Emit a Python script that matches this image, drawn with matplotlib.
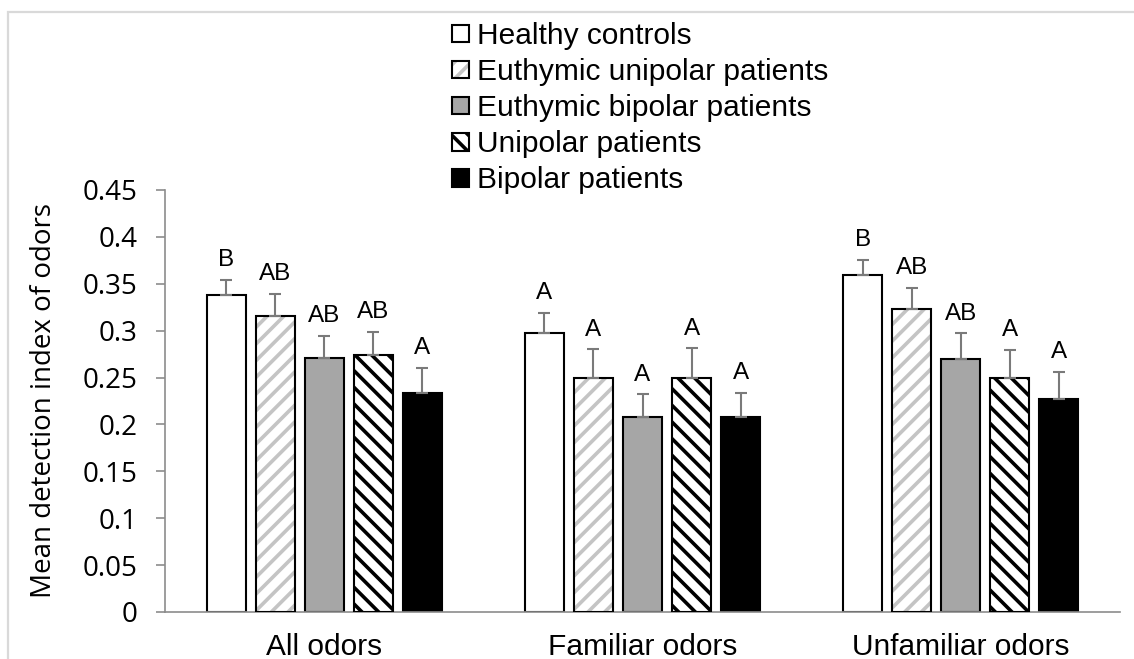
import matplotlib.pyplot as plt
import numpy as np
from matplotlib.patches import Patch, Rectangle
from matplotlib.legend_handler import HandlerTuple

categories = ['All odors', 'Familiar odors', 'Unfamiliar odors']
series_names = ['Healthy controls', 'Euthymic unipolar patients',
                'Euthymic bipolar patients', 'Unipolar patients', 'Bipolar patients']

healthy = [0.338, 0.298, 0.359]
healthy_err = [0.016, 0.021, 0.016]
euth_uni = [0.316, 0.250, 0.323]
euth_uni_err = [0.023, 0.030, 0.023]
euth_bi = [0.271, 0.208, 0.270]
euth_bi_err = [0.023, 0.024, 0.027]
uni = [0.274, 0.250, 0.250]
uni_err = [0.025, 0.031, 0.029]
bi = [0.233, 0.208, 0.227]
bi_err = [0.027, 0.026, 0.029]

healthy_letters = ['B', 'A', 'B']
euth_uni_letters = ['AB', 'A', 'AB']
euth_bi_letters = ['AB', 'A', 'AB']
uni_letters = ['AB', 'A', 'A']
bi_letters = ['A', 'A', 'A']

values = [healthy, euth_uni, euth_bi, uni, bi]
errors = [healthy_err, euth_uni_err, euth_bi_err, uni_err, bi_err]
letters = [healthy_letters, euth_uni_letters, euth_bi_letters, uni_letters, bi_letters]

# face colour, hatch, hatch colour
styles = [
    ('white', None, None),
    ('white', '//', '#c4c4c4'),
    ('#a6a6a6', None, None),
    ('white', '\\\\', 'black'),
    ('black', None, None),
]

plt.rcParams['hatch.linewidth'] = 2.6
arial = 'Liberation Sans'
calibri = 'Open Sans'

fig = plt.figure(figsize=(11.34, 6.59), dpi=100)
ax = fig.add_axes([165 / 1134, 1 - 612 / 659, 955 / 1134, 422 / 659])

# light chart-area border
fig.patches.append(Rectangle((8 / 1134, -0.1), 1.2, 1 - 12 / 659 + 0.1,
                             transform=fig.transFigure, fill=False,
                             edgecolor='#d9d9d9', linewidth=1.6, zorder=0))

x = np.arange(len(categories))
step = 0.154
width = 0.1226
err_color = '#7a7a7a'

handles = []
for i, (vals, errs, labs, (fc, hatch, hc)) in enumerate(zip(values, errors, letters, styles)):
    pos = x + (i - 2) * step
    if hatch:
        ax.bar(pos, vals, width, color=fc, edgecolor=hc, hatch=hatch, linewidth=0, zorder=2)
        ax.bar(pos, vals, width, fill=False, edgecolor='black', linewidth=1.5, zorder=3)
        h = (Patch(facecolor=fc, edgecolor=hc, hatch=hatch, linewidth=0),
             Patch(fill=False, edgecolor='black', linewidth=1.5))
    else:
        ax.bar(pos, vals, width, color=fc, edgecolor='black', linewidth=1.5, zorder=2)
        h = Patch(facecolor=fc, edgecolor='black', linewidth=1.5)
    handles.append(h)
    ax.errorbar(pos, vals, yerr=[np.zeros(len(errs)), errs], fmt='none',
                ecolor=err_color, elinewidth=1.5, capsize=4.3, capthick=1.5, zorder=4)
    for p, v, e, t in zip(pos, vals, errs, labs):
        ax.annotate(t, (p, v + e), xytext=(0, 10), textcoords='offset points',
                    ha='center', va='baseline', fontsize=17.5, family=arial)

ax.set_xlim(-0.5, 2.5)
ax.set_ylim(0, 0.45)
ax.set_yticks(np.arange(0, 0.451, 0.05))
ax.set_yticklabels(['0', '0.05', '0.1', '0.15', '0.2', '0.25', '0.3', '0.35', '0.4', '0.45'],
                   family=calibri, fontsize=20)
ax.set_xticks(x)
ax.set_xticklabels(categories, family=arial, fontsize=21.5)
ax.tick_params(axis='x', length=0, pad=15)
ax.tick_params(axis='y', length=6.5, width=1.2, color='#8c8c8c', pad=13.5)

for s in ['top', 'right']:
    ax.spines[s].set_visible(False)
for s in ['left', 'bottom']:
    ax.spines[s].set_color('#8c8c8c')
    ax.spines[s].set_linewidth(1.2)

ax.set_ylabel('Mean detection index of odors', family=calibri, fontsize=20)
ax.yaxis.set_label_coords(-0.112, 0.5)

fig.legend(handles, series_names, loc='upper left',
           bbox_to_anchor=(452 / 1134, 1 - 22 / 659), frameon=False,
           prop={'family': arial, 'size': 21.5}, borderpad=0, borderaxespad=0,
           handlelength=0.57, handleheight=0.54, handletextpad=0.26, labelspacing=0.27,
           handler_map={tuple: HandlerTuple(ndivide=1)})

fig.savefig('out.png', dpi=100)
